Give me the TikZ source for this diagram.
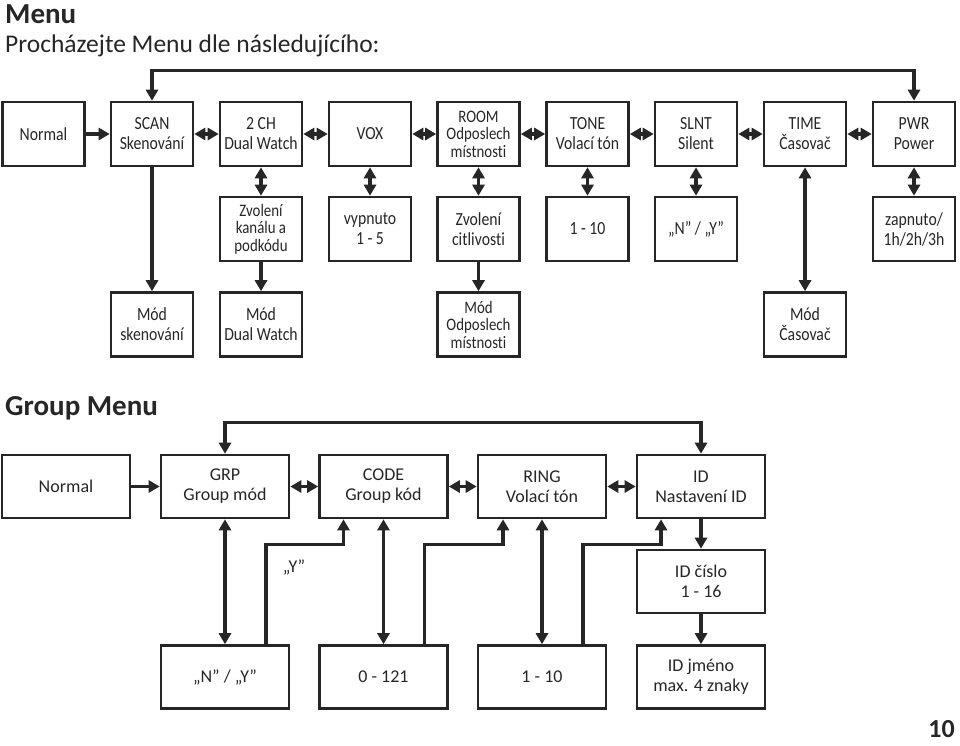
\documentclass[tikz,border=0pt]{standalone}
\usepackage{fontspec}
\setmainfont{Carlito}[Ligatures=NoCommon]
\newfontfamily\narrowfont[FakeStretch=0.85,Ligatures=NoCommon]{Carlito}
\usepackage{xcolor}
\usepackage{tikz}
\usetikzlibrary{arrows.meta}
\definecolor{ink}{HTML}{262626}

\begin{document}
\begin{tikzpicture}[x=1pt,y=-1pt,color=ink,
	mbox/.style={draw,line width=2.6pt,minimum width=82pt,minimum height=64pt,inner sep=0pt,align=center,font=\narrowfont\fontsize{18.5}{20}\selectfont},
	tbox/.style={mbox,font=\narrowfont\fontsize{17.5}{17.5}\selectfont},
	gbox/.style={draw,line width=2.6pt,minimum width=128pt,minimum height=63pt,inner sep=0pt,align=center,font=\fontsize{18}{20}\selectfont},
	>={Triangle[length=11pt,width=12pt]}]
		\useasboundingbox (0,0) rectangle (960,745);
		\node[anchor=base west,inner sep=0pt,font=\bfseries\fontsize{29}{29}\selectfont] (title) at (5,23) {Menu};
		\node[anchor=base west,inner sep=0pt,font=\fontsize{25.5}{25.5}\selectfont] (subtitle) at (5,52) {Procházejte Menu dle následujícího:};
		\node[anchor=base west,inner sep=0pt,font=\bfseries\fontsize{29}{29}\selectfont] (gtitle) at (5,415) {Group Menu};
		\node[anchor=base east,inner sep=0pt,font=\bfseries\fontsize{26}{26}\selectfont] (page) at (955,737) {10};
		%
		\node[mbox] (normA) at (43.5,134) {Normal};
		\node[mbox] (scan) at (152,134) {SCAN\\Skenování};
		\node[mbox] (dual) at (261,134) {2 CH\\Dual Watch};
		\node[mbox] (vox) at (370,134) {VOX};
		\node[tbox] (room) at (478.5,134) {ROOM\\Odposlech\\místnosti};
		\node[mbox] (tone) at (587.5,134) {TONE\\Volací tón};
		\node[mbox] (slnt) at (696,134) {SLNT\\Silent};
		\node[mbox] (time) at (805,134) {TIME\\Časovač};
		\node[mbox] (pwr) at (914,134) {PWR\\Power};
		%
		\node[tbox] (dualsel) at (261,229) {Zvolení\\kanálu a\\podkódu};
		\node[mbox] (voxlvl) at (370,229) {vypnuto\\1 - 5};
		\node[mbox] (roomsel) at (478.5,229) {Zvolení\\citlivosti};
		\node[mbox] (tonelvl) at (587.5,229) {1 - 10};
		\node[mbox] (slntsel) at (696,229) {„N” / „Y”};
		\node[mbox] (pwrsel) at (914,229) {zapnuto/\\1h/2h/3h};
		%
		\node[mbox] (scanmode) at (152,324.5) {Mód\\skenování};
		\node[mbox] (dualmode) at (261,324.5) {Mód\\Dual Watch};
		\node[tbox] (roommode) at (478.5,324.5) {Mód\\Odposlech\\místnosti};
		\node[mbox] (timemode) at (805,324.5) {Mód\\Časovač};
		%
		\path[->,line width=3.4pt]
		(normA) edge (scan)
		(scan) edge[<->] (dual)
		(dual) edge[<->] (vox)
		(vox) edge[<->] (room)
		(room) edge[<->] (tone)
		(tone) edge[<->] (slnt)
		(slnt) edge[<->] (time)
		(time) edge[<->] (pwr)
		(scan) edge (scanmode)
		(dual) edge[<->] (dualsel)
		(dualsel) edge (dualmode)
		(vox) edge[<->] (voxlvl)
		(room) edge[<->] (roomsel)
		(roomsel) edge (roommode)
		(tone) edge[<->] (tonelvl)
		(slnt) edge[<->] (slntsel)
		(time) edge[<->] (timemode)
		(pwr) edge[<->] (pwrsel);
		\draw[<->,line width=3.4pt] (scan.north) -- ([yshift=30pt]scan.north) -| (pwr.north);
		%
		\node[gbox] (normB) at (66,486.5) {Normal};
		\node[gbox] (grp) at (225,486.5) {GRP\\Group mód};
		\node[gbox] (code) at (383.5,486.5) {CODE\\Group kód};
		\node[gbox] (ring) at (542,486.5) {RING\\Volací tón};
		\node[gbox] (id) at (701,486.5) {ID\\Nastavení ID};
		\node[gbox] (idnum) at (701,581.5) {ID číslo\\1 - 16};
		\node[gbox] (grpsel) at (225,677) {„N” / „Y”};
		\node[gbox] (codesel) at (383.5,677) {0 - 121};
		\node[gbox] (ringsel) at (542,677) {1 - 10};
		\node[gbox] (idname) at (701,677) {ID jméno\\max. 4 znaky};
		\node[font=\fontsize{18}{18}\selectfont] (ylab) at (294,567) {„Y”};
		%
		\path[->,line width=3.4pt]
		(normB) edge (grp)
		(grp) edge[<->] (code)
		(code) edge[<->] (ring)
		(ring) edge[<->] (id)
		(grp) edge[<->] (grpsel)
		(code) edge[<->] (codesel)
		(ring) edge[<->] (ringsel)
		(id) edge (idnum)
		(idnum) edge (idname);
		\draw[<->,line width=3.4pt] (grp.north) -- ([yshift=31pt]grp.north) -| (id.north);
		\draw[->,line width=3.4pt] ([xshift=41pt]grpsel.north) |- ([xshift=-40pt,yshift=-25pt]code.south) -- ([xshift=-40pt]code.south);
		\draw[->,line width=3.4pt] ([xshift=41pt]codesel.north) |- ([xshift=-39pt,yshift=-25pt]ring.south) -- ([xshift=-39pt]ring.south);
		\draw[->,line width=3.4pt] ([xshift=41pt]ringsel.north) |- ([xshift=-40pt,yshift=-25pt]id.south) -- ([xshift=-40pt]id.south);
\end{tikzpicture}
\end{document}
